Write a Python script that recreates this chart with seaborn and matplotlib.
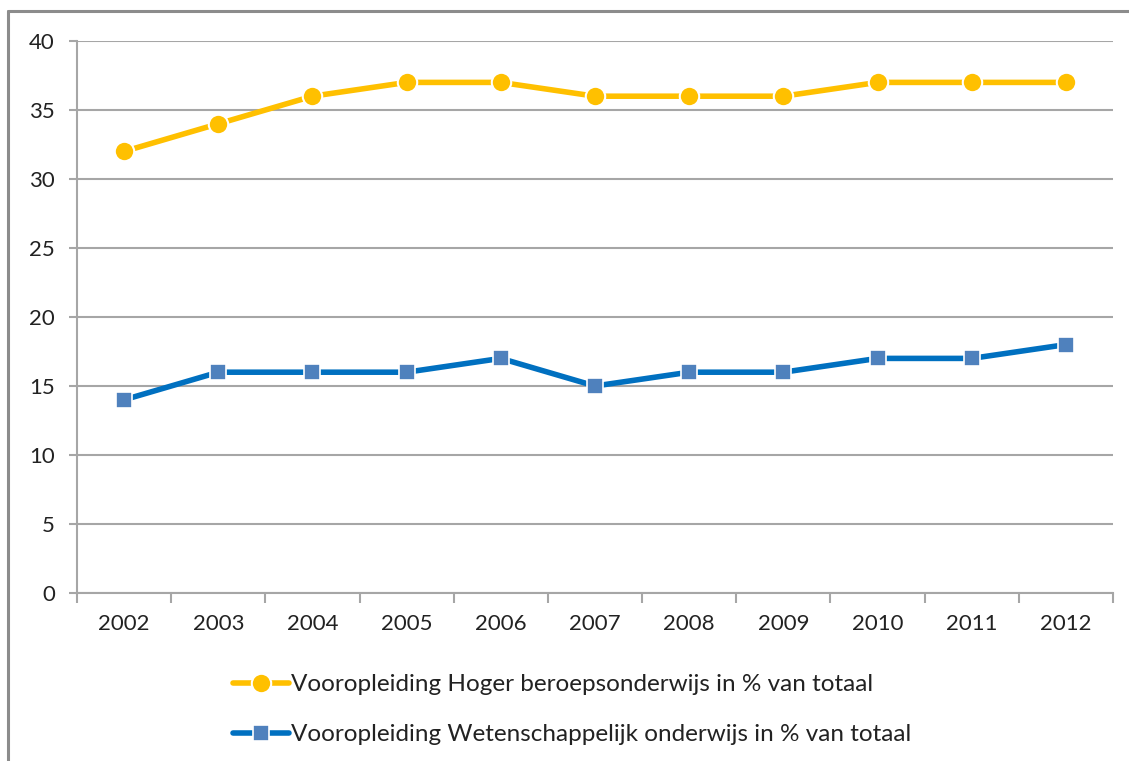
import matplotlib
matplotlib.use("Agg")
import matplotlib.pyplot as plt
from matplotlib.lines import Line2D
import seaborn as sns
import pandas as pd
import numpy as np

# data
years = ['2002', '2003', '2004', '2005', '2006', '2007', '2008', '2009', '2010', '2011', '2012']
hbo = [32, 34, 36, 37, 37, 36, 36, 36, 37, 37, 37]
wo = [14, 16, 16, 16, 17, 15, 16, 16, 17, 17, 18]
label_hbo = 'Vooropleiding Hoger beroepsonderwijs in % van totaal'
label_wo = 'Vooropleiding Wetenschappelijk onderwijs in % van totaal'

df = pd.DataFrame({'pos': np.arange(len(years)), 'hbo': hbo, 'wo': wo})

sns.set_style('white')
plt.rcParams['font.family'] = ['Lato', 'DejaVu Sans']

fig = plt.figure(figsize=(11.29, 7.61), dpi=100)
ax = fig.add_axes([77/1129, 1 - 593/761, (1113 - 77)/1129, (593 - 41)/761])

grid_c = '#A6A6A6'
sns.lineplot(data=df, x='pos', y='hbo', ax=ax, color='#FFC000', lw=4,
             marker='o', markersize=14, markerfacecolor='#FFC000',
             markeredgecolor='white', markeredgewidth=1.5, label=label_hbo)
sns.lineplot(data=df, x='pos', y='wo', ax=ax, color='#0070C0', lw=4,
             marker='s', markersize=12, markerfacecolor='#4F81BD',
             markeredgecolor='white', markeredgewidth=1.2, label=label_wo)

ax.set_xlim(-0.5, len(years) - 0.5)
ax.set_ylim(0, 40)
ax.set_yticks(range(0, 41, 5))
ax.yaxis.grid(True, color=grid_c, lw=1.5)
ax.set_axisbelow(True)
ax.set_xticks(range(len(years)))
ax.set_xticklabels(years)
ax.set_xticks(np.arange(-0.5, len(years), 1), minor=True)
ax.tick_params(axis='x', which='major', length=0, pad=15, labelsize=16, colors='#222222')
ax.tick_params(axis='x', which='minor', length=7, width=1.5, color=grid_c, direction='out', bottom=True)
ax.tick_params(axis='y', length=6, width=1.5, color=grid_c, pad=10, labelsize=16, labelcolor='#222222', left=True)
ax.set_xlabel('')
ax.set_ylabel('')
for s in ['top', 'right']:
    ax.spines[s].set_visible(False)
for s in ['left', 'bottom']:
    ax.spines[s].set_color(grid_c)
    ax.spines[s].set_linewidth(1.5)

leg = ax.legend(loc='upper left', bbox_to_anchor=(233/1129, 1 - 674/761),
                bbox_transform=fig.transFigure, frameon=False, fontsize=17.5,
                handlelength=2.3, handletextpad=0.1, labelspacing=1.2,
                borderpad=0, borderaxespad=0)
for t in leg.get_texts():
    t.set_color('#222222')

# outer frame (top and left visible)
fig.add_artist(Line2D([8/1129, 1], [1 - 11/761, 1 - 11/761], color='#8C8C8C', lw=2.2, transform=fig.transFigure))
fig.add_artist(Line2D([8/1129, 8/1129], [0, 1 - 11/761], color='#8C8C8C', lw=2.2, transform=fig.transFigure))

fig.savefig('out.png', dpi=100)
